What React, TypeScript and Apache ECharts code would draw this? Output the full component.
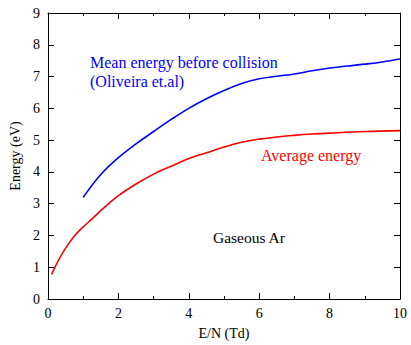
import React, { useEffect, useRef } from "react";
import * as echarts from "echarts";

const meanX = [1, 1.5, 2, 2.5, 3, 3.5, 4, 4.5, 5, 5.5, 6, 6.5, 7, 7.5, 8, 8.5, 9, 9.5, 10];
const meanY = [3.2, 3.92, 4.45, 4.88, 5.27, 5.65, 6.0, 6.3, 6.56, 6.78, 6.93, 7.01, 7.08, 7.18, 7.27, 7.33, 7.39, 7.46, 7.55];

const avgX = [0.1, 0.3, 0.5, 0.75, 1, 1.25, 1.5, 2, 2.5, 3, 3.5, 4, 4.5, 5, 5.5, 6, 6.5, 7, 7.5, 8, 9, 10];
const avgY = [0.77, 1.22, 1.6, 1.98, 2.27, 2.52, 2.78, 3.25, 3.62, 3.93, 4.18, 4.42, 4.6, 4.78, 4.93, 5.03, 5.1, 5.15, 5.19, 5.22, 5.27, 5.3];

const xTickLabels = ["0", "2", "4", "6", "8", "10"];
const yTickLabels = ["0", "1", "2", "3", "4", "5", "6", "7", "8", "9"];

const FONT = "Liberation Serif";

export default function App() {
  const ref = useRef<HTMLDivElement>(null);
  useEffect(() => {
    if (!ref.current) return;
    const chart = echarts.init(ref.current, null, { renderer: "svg" });
    const line = { color: "#000", width: 1 };
    const baseX = {
      type: "value",
      min: 0,
      max: 10,
      interval: 2,
      axisLine: { show: true, onZero: false, lineStyle: line },
      axisTick: { show: true, inside: true, length: 6, lineStyle: line },
      minorTick: { show: true, splitNumber: 2, length: 3, lineStyle: line },
      splitLine: { show: false },
    };
    const baseY = {
      type: "value",
      min: 0,
      max: 9,
      interval: 1,
      axisLine: { show: true, onZero: false, lineStyle: line },
      axisTick: { show: true, inside: true, length: 6, lineStyle: line },
      splitLine: { show: false },
    };
    chart.setOption({
      animation: false,
      backgroundColor: "#fff",
      textStyle: { fontFamily: FONT },
      grid: { left: 48, right: 11, top: 13, bottom: 44 },
      xAxis: [
        {
          ...baseX,
          position: "bottom",
          name: "E/N (Td)",
          nameLocation: "middle",
          nameGap: 27,
          nameTextStyle: { fontFamily: FONT, fontSize: 14, color: "#000" },
          axisLabel: {
            fontFamily: FONT,
            fontSize: 14,
            color: "#000",
            margin: 7,
            formatter: (v: number) => xTickLabels[Math.round(v / 2)] ?? "",
          },
        },
        { ...baseX, position: "top", axisLabel: { show: false } },
      ],
      yAxis: [
        {
          ...baseY,
          position: "left",
          name: "Energy (eV)",
          nameLocation: "middle",
          nameGap: 26,
          nameTextStyle: { fontFamily: FONT, fontSize: 14, color: "#000" },
          axisLabel: {
            fontFamily: FONT,
            fontSize: 14,
            color: "#000",
            margin: 8,
            formatter: (v: number) => yTickLabels[Math.round(v)] ?? "",
          },
        },
        { ...baseY, position: "right", axisLabel: { show: false } },
      ],
      series: [
        {
          type: "line",
          data: meanX.map((x, i) => [x, meanY[i]]),
          smooth: 0.4,
          showSymbol: false,
          lineStyle: { color: "#0000ff", width: 1.6 },
          xAxisIndex: 0,
          yAxisIndex: 0,
        },
        {
          type: "line",
          data: avgX.map((x, i) => [x, avgY[i]]),
          smooth: 0.4,
          showSymbol: false,
          lineStyle: { color: "#ff0000", width: 1.6 },
          xAxisIndex: 0,
          yAxisIndex: 0,
        },
      ],
      graphic: [
        {
          type: "text",
          left: 90,
          top: 53,
          style: {
            text: "Mean energy before collision\n(Oliveira et.al)",
            fill: "#0000ff",
            fontFamily: FONT,
            fontSize: 16,
            lineHeight: 19,
          },
        },
        {
          type: "text",
          left: 261,
          top: 147,
          style: { text: "Average energy", fill: "#ff0000", fontFamily: FONT, fontSize: 16 },
        },
        {
          type: "text",
          left: 213,
          top: 229,
          style: { text: "Gaseous Ar", fill: "#000", fontFamily: FONT, fontSize: 15.5 },
        },
      ],
    });
    return () => chart.dispose();
  }, []);
  return (
    <div
      ref={ref}
      style={{ position: "fixed", left: 0, top: 0, width: 411, height: 345 }}
    />
  );
}
